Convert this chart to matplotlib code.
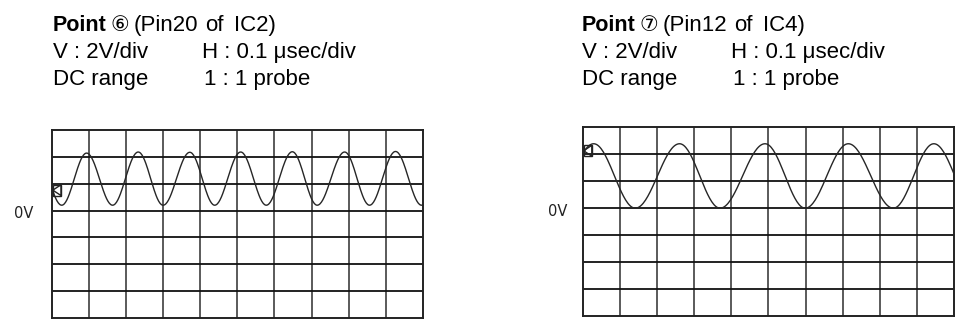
import numpy as np
import matplotlib
matplotlib.use("Agg")
import matplotlib.pyplot as plt
from matplotlib.patches import Rectangle, Polygon

# ---- data (time in usec, voltage in V) ----
left_title = ("Point", "\u2465", "(Pin20", "of", "IC2)")
right_title = ("Point", "\u2466", "(Pin12", "of", "IC4)")
v_label = "V : 2V/div"
h_label = "H : 0.1 \u03bcsec/div"
dc_label = "DC range"
probe_label = "1 : 1 probe"
zero_label = "0V"

# extrema of the traces (peaks / troughs)
left_t = [-0.042, 0.027, 0.094, 0.164, 0.233, 0.300, 0.372, 0.439, 0.509,
          0.578, 0.648, 0.715, 0.789, 0.856, 0.926, 0.996, 1.065]
left_v = [4.34, 0.4, 4.28, 0.4, 4.36, 0.4, 4.34, 0.4, 4.36,
          0.4, 4.38, 0.4, 4.36, 0.4, 4.40, 0.4, 4.36]
right_t = [-0.084, 0.030, 0.142, 0.261, 0.370, 0.491, 0.599, 0.715, 0.836, 0.945, 1.058]
right_v = [0.0, 4.78, 0.0, 4.78, 0.0, 4.78, 0.0, 4.78, 0.0, 4.78, 0.0]
# ground-reference marker level (V)
left_marker_v = 1.52
right_marker_v = 4.26

V_DIV = 2.0
T_DIV = 0.1
N_H = 10
V_TOP, V_BOT = 6.0, -8.0

W, H = 963, 334
fig = plt.figure(figsize=(W / 100, H / 100), dpi=100)

FONT = ['Liberation Sans', 'DejaVu Sans']


def trace(ts, vs):
    xs, ys = [], []
    for i in range(len(ts) - 1):
        s = np.linspace(0, 1, 40)
        xs.append(ts[i] + (ts[i + 1] - ts[i]) * s)
        ys.append(vs[i] + (vs[i + 1] - vs[i]) * (1 - np.cos(np.pi * s)) / 2)
    return np.concatenate(xs), np.concatenate(ys)


def scope(rect, ts, vs, marker_v):
    ax = fig.add_axes(rect)
    ax.set_xlim(0, N_H * T_DIV)
    ax.set_ylim(V_BOT, V_TOP)
    ax.set_xticks([])
    ax.set_yticks([])
    for s in ax.spines.values():
        s.set_linewidth(1.4)
        s.set_color('#222222')
    for i in range(1, N_H):
        ax.axvline(i * T_DIV, color='#5a5a5a', lw=1.4, zorder=1)
    v = V_BOT + V_DIV
    while v < V_TOP - 1e-9:
        ax.axhline(v, color='#111111', lw=1.3, zorder=1)
        v += V_DIV
    x, y = trace(ts, vs)
    ax.plot(x, y, color='#262626', lw=1.0, zorder=3)
    # ground marker
    mw, mh = 0.022, 0.8
    ax.add_patch(Rectangle((0.003, marker_v - mh / 2), mw, mh, fill=False,
                           ec='#222222', lw=1.0, zorder=4))
    ax.add_patch(Polygon([[0.003, marker_v], [0.003 + mw, marker_v + mh / 2],
                          [0.003 + mw, marker_v - mh / 2]], closed=True,
                         fill=False, ec='#222222', lw=1.0, zorder=4))
    return ax


def px(x, y):
    return x / W, 1 - y / H


ax1 = scope([51.7 / W, 1 - 318 / H, 371.3 / W, 188 / H], left_t, left_v, left_marker_v)
ax2 = scope([582.5 / W, 1 - 316 / H, 371.8 / W, 188.7 / H], right_t, right_v, right_marker_v)

FS = 16
for (x0, title) in [(53, left_title), (582, right_title)]:
    fig.text(*px(x0, 30.7), title[0], fontweight='bold', fontsize=FS - 0.5,
             family=FONT, va='baseline', color='black')
    fig.text(*px(x0 + 57, 30.7), title[1], fontsize=FS - 1, family=['DejaVu Sans'],
             va='baseline', color='black')
    fig.text(*px(x0 + 81, 30.7), title[2], fontsize=FS, family=FONT,
             va='baseline', color='black')
    fig.text(*px(x0 + 152, 30.7), title[3], fontsize=FS, family=FONT,
             va='baseline', color='black')
    fig.text(*px(x0 + 181, 30.7), title[4], fontsize=FS, family=FONT,
             va='baseline', color='black')
    fig.text(*px(x0, 58.3), v_label, fontsize=FS, family=FONT, va='baseline')
    fig.text(*px(x0 + 149, 58.3), h_label, fontsize=FS, family=FONT, va='baseline')
    fig.text(*px(x0, 85.5), dc_label, fontsize=FS, family=FONT, va='baseline')
    fig.text(*px(x0 + 151, 85.5), probe_label, fontsize=FS, family=FONT, va='baseline')

fig.text(*px(14, 213), zero_label, fontsize=10.5, family=['DejaVu Sans'],
         va='center', ha='left', color='#222222')
fig.text(*px(548, 212), zero_label, fontsize=10.5, family=['DejaVu Sans'],
         va='center', ha='left', color='#222222')

fig.savefig('out.png', dpi=100, facecolor='white')
